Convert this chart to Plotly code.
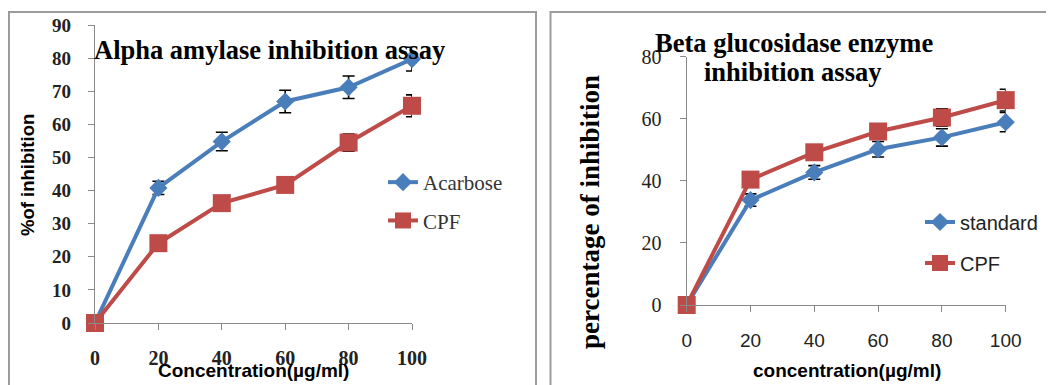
import plotly.graph_objects as go

conc = [0, 20, 40, 60, 80, 100]

# Alpha amylase panel
acarbose = [0, 40.8, 54.8, 66.9, 71.2, 79.7]
acarbose_err = [0, 2.0, 2.8, 3.4, 3.4, 3.6]
cpf_alpha = [0, 24.1, 36.2, 41.7, 54.5, 65.6]
cpf_alpha_err = [0, 1.5, 1.5, 1.5, 2.6, 3.3]

# Beta glucosidase panel
standard = [0, 33.8, 42.7, 50.2, 54.0, 58.9]
standard_err = [0, 2.0, 2.2, 2.5, 2.8, 3.1]
cpf_beta = [0, 40.4, 49.2, 55.9, 60.4, 66.0]
cpf_beta_err = [0, 1.5, 1.5, 1.8, 2.8, 3.5]

alpha_yticks = [0, 10, 20, 30, 40, 50, 60, 70, 80, 90]
beta_yticks = [0, 20, 40, 60, 80]

BLUE = "#4a7ebb"
RED = "#be4b48"
SERIF = "Liberation Serif, Times New Roman, serif"
SANS = "Liberation Sans, Arial, sans-serif"
W, H = 1054, 385
OFF = 8  # page body margin offset (screen px -> figure px)


def px(sx):
    return (sx - OFF) / W


def py(sy):
    return 1 - (sy - OFF) / H


fig = go.Figure()


def add(x, y, err, name, color, symbol, size, xa, ya, legend):
    fig.add_trace(go.Scatter(
        x=x, y=y, name=name, mode="lines+markers",
        line=dict(color=color, width=4),
        marker=dict(symbol=symbol, size=size, color=color),
        error_y=dict(type="data", array=err, visible=True, color="black", thickness=1.6, width=6),
        xaxis=xa, yaxis=ya, legend=legend, legendgroup=name + xa, cliponaxis=False,
    ))


add(conc, acarbose, acarbose_err, "Acarbose", BLUE, "diamond", 14, "x", "y", "legend")
add(conc, cpf_alpha, cpf_alpha_err, "CPF", RED, "square", 18, "x", "y", "legend")
add(conc, standard, standard_err, "standard", BLUE, "diamond", 14, "x2", "y2", "legend2")
add(conc, cpf_beta, cpf_beta_err, "CPF", RED, "square", 18, "x2", "y2", "legend2")

axcol = "#8a8a8a"
common_x = dict(tickmode="array", tickvals=conc, range=[0, 100], showgrid=False, zeroline=False,
                showline=True, linecolor=axcol, linewidth=1.2, ticks="outside", ticklen=6,
                tickcolor=axcol, tickwidth=1.2, automargin=False)
common_y = dict(tickmode="array", showgrid=False, zeroline=False, showline=True, linecolor=axcol,
                linewidth=1.2, ticks="outside", ticklen=6, tickcolor=axcol, tickwidth=1.2,
                automargin=False)

fig.update_layout(
    width=W, height=H, margin=dict(l=0, r=0, t=0, b=0, pad=0, autoexpand=False),
    plot_bgcolor="white", paper_bgcolor="white",
    xaxis=dict(common_x, domain=[px(95), px(412)], anchor="y", ticklabelstandoff=11,
               tickfont=dict(family=SERIF, size=20, color="#222", weight="bold")),
    yaxis=dict(common_y, domain=[py(323), py(25)], anchor="x", range=[0, 90], ticklabelstandoff=13,
               tickvals=alpha_yticks, tickfont=dict(family=SERIF, size=19, color="#222", weight="bold")),
    xaxis2=dict(common_x, domain=[px(686.7), px(1005.7)], anchor="y2", ticklabelstandoff=12,
                tickfont=dict(family=SANS, size=19, color="#222")),
    yaxis2=dict(common_y, domain=[py(305), py(56.7)], anchor="x2", range=[0, 80], ticklabelstandoff=14,
                tickvals=beta_yticks, tickfont=dict(family=SERIF, size=20, color="#222")),
    legend=dict(x=px(383), y=py(162), xanchor="left", yanchor="top",
                font=dict(family=SERIF, size=21, color="#333"), bgcolor="rgba(0,0,0,0)",
                traceorder="grouped", tracegroupgap=8),
    legend2=dict(x=px(920), y=py(202.5), xanchor="left", yanchor="top",
                 font=dict(family=SANS, size=20, color="#222"), bgcolor="rgba(0,0,0,0)",
                 traceorder="grouped", tracegroupgap=12),
    showlegend=True,
)

# panel frames
fig.add_shape(type="rect", xref="paper", yref="paper", x0=px(9), x1=px(536), y0=-0.05, y1=py(12),
              line=dict(color="#9c9c9c", width=2), layer="below")
fig.add_shape(type="rect", xref="paper", yref="paper", x0=px(550.5), x1=1.05, y0=-0.05, y1=py(12),
              line=dict(color="#9c9c9c", width=2), layer="below")

ann = []
ann.append(dict(text="<b>Alpha amylase inhibition assay</b>", x=px(269), y=py(50), xanchor="center",
                yanchor="middle", font=dict(family=SERIF, size=26.5, color="black")))
ann.append(dict(text="<b>Beta glucosidase enzyme</b>", x=px(794), y=py(43),
                xanchor="center", yanchor="middle", font=dict(family=SERIF, size=26.5, color="black")))
ann.append(dict(text="<b>inhibition assay</b>", x=px(792), y=py(72),
                xanchor="center", yanchor="middle", font=dict(family=SERIF, size=26.5, color="black")))
ann.append(dict(text="<b>%of inhibition</b>", x=px(27), y=py(175), textangle=-90, xanchor="center",
                yanchor="middle", font=dict(family=SANS, size=18.5, color="black")))
ann.append(dict(text="<b>percentage of inhibition</b>", x=px(590), y=py(212), textangle=-90,
                xanchor="center", yanchor="middle", font=dict(family=SERIF, size=27, color="black")))
ann.append(dict(text="<b>Concentration(µg/ml)</b>", x=px(253), y=py(370), xanchor="center",
                yanchor="middle", font=dict(family=SANS, size=19, color="black")))
ann.append(dict(text="<b>concentration(µg/ml)</b>", x=px(847), y=py(370), xanchor="center",
                yanchor="middle", font=dict(family=SANS, size=19, color="black")))
for a in ann:
    a.update(xref="paper", yref="paper", showarrow=False)
fig.update_layout(annotations=ann)

fig.write_html("out.html")
